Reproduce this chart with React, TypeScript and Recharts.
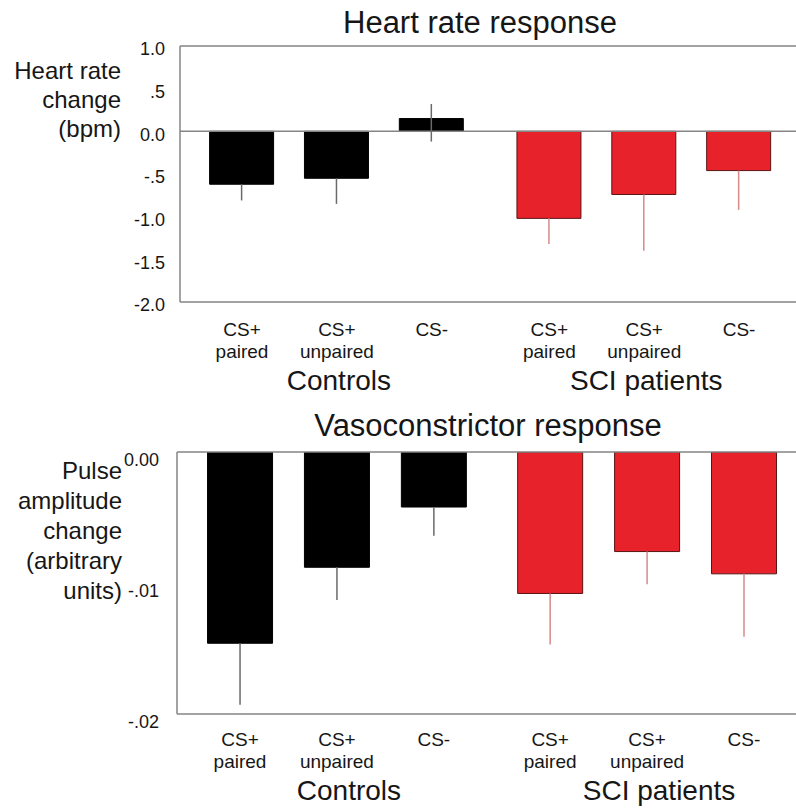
import { BarChart, Bar, XAxis, YAxis, ReferenceLine, ErrorBar, Cell } from 'recharts'

const FONT = '"Liberation Sans", Arial, Helvetica, sans-serif'
const INK = '#161616'
const FRAME = '#858585'

// categories (two-line tick labels) and their group
const categories = [['CS+', 'paired'], ['CS+', 'unpaired'], ['CS-'], ['CS+', 'paired'], ['CS+', 'unpaired'], ['CS-']]
const groupOf = [0, 0, 0, 1, 1, 1]
const groupNames = ['Controls', 'SCI patients']
const barFill = ['#000000', '#e8222b']
const barStroke = ['#000000', '#5a1414']
const errStroke = ['#6a6a6a', '#d58a8a']

// heart rate change (bpm)
const heartRate = [-0.62, -0.55, 0.15, -1.02, -0.74, -0.46]
const heartRateErrLow = [0.19, 0.3, 0.27, 0.3, 0.66, 0.46]
const heartRateErrHigh = [0, 0, 0.17, 0, 0, 0]
const hrTicks = [1, 0.5, 0, -0.5, -1, -1.5, -2]
const hrTickLabels = ['1.0', '.5', '0.0', '-.5', '-1.0', '-1.5', '-2.0']

// pulse amplitude change (arbitrary units)
const pulse = [-0.0146, -0.0088, -0.0042, -0.0108, -0.0076, -0.0093]
const pulseErrLow = [0.0047, 0.0025, 0.0022, 0.0039, 0.0025, 0.0048]
const pulseErrHigh = [0, 0, 0, 0, 0, 0]
const paTicks = [0, -0.01, -0.02]
const paTickLabels = ['0.00', '-.01', '-.02']

type PanelProps = {
  top: number
  height: number
  margin: { top: number; left: number; bottom: number }
  gap: number
  xDomain: [number, number]
  barSize: number
  values: number[]
  errLow: number[]
  errHigh: number[]
  yDomain: [number, number]
  yTicks: number[]
  yTickLabels: string[]
  yTickDy: number
  yTickMargin: number
  zeroLine: boolean
  xLabelDy: [number, number]
  groupDy: number
  groupDx: number
}

function Panel(p: PanelProps) {
  const rows = p.values.map((v, i) => {
    const g = groupOf[i]
    const err = [p.errLow[i], p.errHigh[i]]
    return {
      pos: i + 1 + g * p.gap,
      value: v,
      errC: g === 0 ? err : undefined,
      errS: g === 1 ? err : undefined,
    }
  })
  const positions = rows.map((r) => r.pos)
  // the middle category of each group carries the group name
  const groupMid = groupNames.map((_, g) => {
    const idx = groupOf.map((q, i) => (q === g ? i : -1)).filter((i) => i >= 0)
    return idx[Math.floor(idx.length / 2)]
  })

  const CatTick = (props: any) => {
    const { x, y, payload } = props
    const i = positions.findIndex((q) => Math.abs(q - payload.value) < 1e-6)
    if (i < 0) return null
    const g = groupMid.indexOf(i)
    return (
      <g>
        {categories[i].map((t, k) => (
          <text key={k} x={x} y={y + p.xLabelDy[k]} textAnchor="middle" fontSize={19} fill={INK} fontFamily={FONT}>
            {t}
          </text>
        ))}
        {g >= 0 && (
          <text x={x + p.groupDx} y={y + p.groupDy} textAnchor="middle" fontSize={28} fill={INK} fontFamily={FONT}>
            {groupNames[g]}
          </text>
        )}
      </g>
    )
  }

  const ValTick = (props: any) => {
    const { x, y, payload } = props
    const i = p.yTicks.findIndex((q) => Math.abs(q - payload.value) < 1e-9)
    return (
      <text x={x} y={y + p.yTickDy} dy="0.36em" textAnchor="end" fontSize={18} fill={INK} fontFamily={FONT}>
        {i >= 0 ? p.yTickLabels[i] : ''}
      </text>
    )
  }

  return (
    <div style={{ position: 'absolute', left: 0, top: p.top }}>
      <BarChart
        width={796}
        height={p.height}
        data={rows}
        margin={{ top: p.margin.top, right: 0, left: p.margin.left, bottom: p.margin.bottom }}
      >
        <XAxis
          type="number"
          dataKey="pos"
          domain={p.xDomain}
          allowDataOverflow
          ticks={positions}
          interval={0}
          tickLine={false}
          tickSize={0}
          tickMargin={0}
          height={90}
          axisLine={{ stroke: FRAME, strokeWidth: 1.5 }}
          tick={<CatTick />}
        />
        <YAxis
          type="number"
          domain={p.yDomain}
          allowDataOverflow
          ticks={p.yTicks}
          interval={0}
          width={60}
          tickLine={false}
          tickSize={0}
          tickMargin={p.yTickMargin}
          axisLine={{ stroke: FRAME, strokeWidth: 1.5 }}
          tick={<ValTick />}
        />
        <ReferenceLine y={p.yDomain[1]} stroke={FRAME} strokeWidth={1.5} />
        {p.zeroLine && <ReferenceLine y={0} stroke={FRAME} strokeWidth={1.5} />}
        <Bar dataKey="value" barSize={p.barSize} isAnimationActive={false}>
          {rows.map((_, i) => (
            <Cell key={i} fill={barFill[groupOf[i]]} stroke={barStroke[groupOf[i]]} strokeWidth={1} />
          ))}
          <ErrorBar dataKey="errC" width={0} stroke={errStroke[0]} strokeWidth={1.5} direction="y" isAnimationActive={false} />
          <ErrorBar dataKey="errS" width={0} stroke={errStroke[1]} strokeWidth={1.5} direction="y" isAnimationActive={false} />
        </Bar>
      </BarChart>
    </div>
  )
}

const titleStyle = {
  position: 'absolute' as const,
  fontFamily: FONT,
  fontSize: 31,
  lineHeight: '30px',
  color: INK,
  textAlign: 'center' as const,
  whiteSpace: 'nowrap' as const,
}

const yLabelStyle = {
  position: 'absolute' as const,
  left: 0,
  fontFamily: FONT,
  fontSize: 24,
  color: INK,
  textAlign: 'right' as const,
  whiteSpace: 'nowrap' as const,
}

export default function App() {
  return (
    <div style={{ position: 'absolute', left: 0, top: 0, width: 796, height: 808, background: '#fff', overflow: 'hidden' }}>
      <div style={{ ...titleStyle, left: 180, width: 600, top: 8 }}>Heart rate response</div>
      <div style={{ ...yLabelStyle, width: 121, top: 56, lineHeight: '29px' }}>
        Heart rate
        <br />
        change
        <br />
        (bpm)
      </div>
      <Panel
        top={0}
        height={400}
        margin={{ top: 46, left: 120, bottom: 8 }}
        gap={0.24}
        xDomain={[0.346, 6.84]}
        barSize={64}
        values={heartRate}
        errLow={heartRateErrLow}
        errHigh={heartRateErrHigh}
        yDomain={[-2, 1]}
        yTicks={hrTicks}
        yTickLabels={hrTickLabels}
        yTickDy={3}
        yTickMargin={15}
        zeroLine
        xLabelDy={[34, 56]}
        groupDy={88}
        groupDx={2}
      />

      <div style={{ ...titleStyle, left: 180, width: 616, top: 411 }}>Vasoconstrictor response</div>
      <div style={{ ...yLabelStyle, width: 122, top: 456, lineHeight: '30px' }}>
        Pulse
        <br />
        amplitude
        <br />
        change
        <br />
        (arbitrary
        <br />
        units)
      </div>
      <Panel
        top={400}
        height={408}
        margin={{ top: 52, left: 117, bottom: 4 }}
        gap={0.2}
        xDomain={[0.35, 6.737]}
        barSize={65}
        values={pulse}
        errLow={pulseErrLow}
        errHigh={pulseErrHigh}
        yDomain={[-0.02, 0]}
        yTicks={paTicks}
        yTickLabels={paTickLabels}
        yTickDy={8}
        yTickMargin={18}
        zeroLine={false}
        xLabelDy={[32, 54]}
        groupDy={86}
        groupDx={12}
      />
    </div>
  )
}
